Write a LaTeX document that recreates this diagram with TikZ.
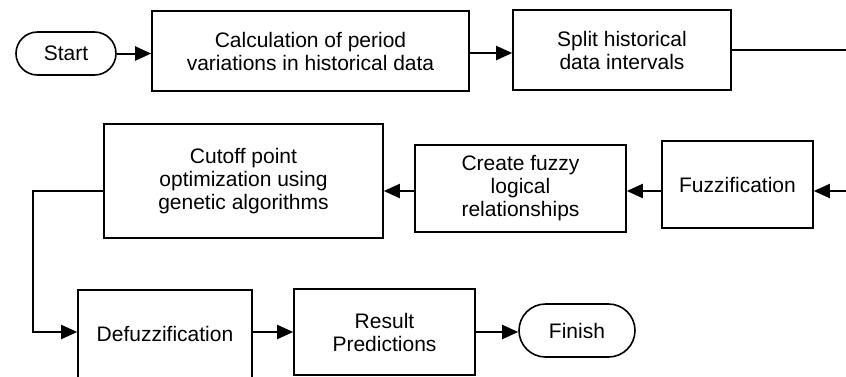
\documentclass[tikz,border=0pt]{standalone}
\usepackage{fontspec}
\setmainfont{Liberation Sans}
\usetikzlibrary{positioning, arrows.meta, shapes.misc}

\begin{document}
\begin{tikzpicture}[
  x=0.5pt, y=-0.5pt,
  box/.style={draw, line width=0.8pt, align=center, inner sep=2pt,
              font=\fontsize{10.5}{11.5}\selectfont},
  term/.style={box, rounded rectangle},
  arr/.style={-{Triangle[length=8pt, width=7pt]}, line width=1pt},
  line/.style={line width=1pt},
]
\useasboundingbox (0,0) rectangle (846,376);
% top row
\node[term, minimum width=54pt, minimum height=21.5pt] (start) at (66,53.5) {Start};
\node[box, minimum width=158.5pt, minimum height=40pt] (calc) at (310.5,51)
  {Calculation of period\\variations in historical data};
\node[box, minimum width=109pt, minimum height=40pt] (split) at (622,50)
  {Split historical\\data intervals};
% middle row
\node[box, minimum width=75.5pt, minimum height=43.5pt] (fuzz) at (737.5,184.5)
  {Fuzzification};
\node[box, minimum width=105.5pt, minimum height=43.5pt] (flr) at (520.5,188.5)
  {Create fuzzy\\logical\\relationships};
\node[box, minimum width=139.5pt, minimum height=57pt] (ga) at (243.5,181)
  {Cutoff point\\optimization using\\genetic algorithms};
% bottom row
\node[box, minimum width=87pt, minimum height=44pt] (defuzz) at (165,334)
  {Defuzzification};
\node[box, minimum width=90.5pt, minimum height=43pt] (res) at (384.5,332)
  {Result\\Predictions};
\node[term, minimum width=62pt, minimum height=26.5pt] (fin) at (577,330.5) {Finish};
\coordinate (r1) at (846,50);
\coordinate (r2) at (846,191);
\coordinate (lft) at (33,332);
\draw[arr] (start.east) -- (start.east -| calc.west);
\draw[arr] (calc.east |- 0,53) -- (split.west |- 0,53);
\draw[line] (split.east) -- (r1);
\draw[arr] (r2) -- (r2 -| fuzz.east);
\draw[arr] (fuzz.west |- r2) -- (flr.east |- r2);
\draw[arr] (flr.west |- r2) -- (ga.east |- r2);
\draw[arr] (ga.west |- r2) -| (lft) -- (lft -| defuzz.west);
\draw[arr] (defuzz.east |- res) -- (res.west);
\draw[arr] (res.east) -- (res.east -| fin.west);
\end{tikzpicture}
\end{document}
